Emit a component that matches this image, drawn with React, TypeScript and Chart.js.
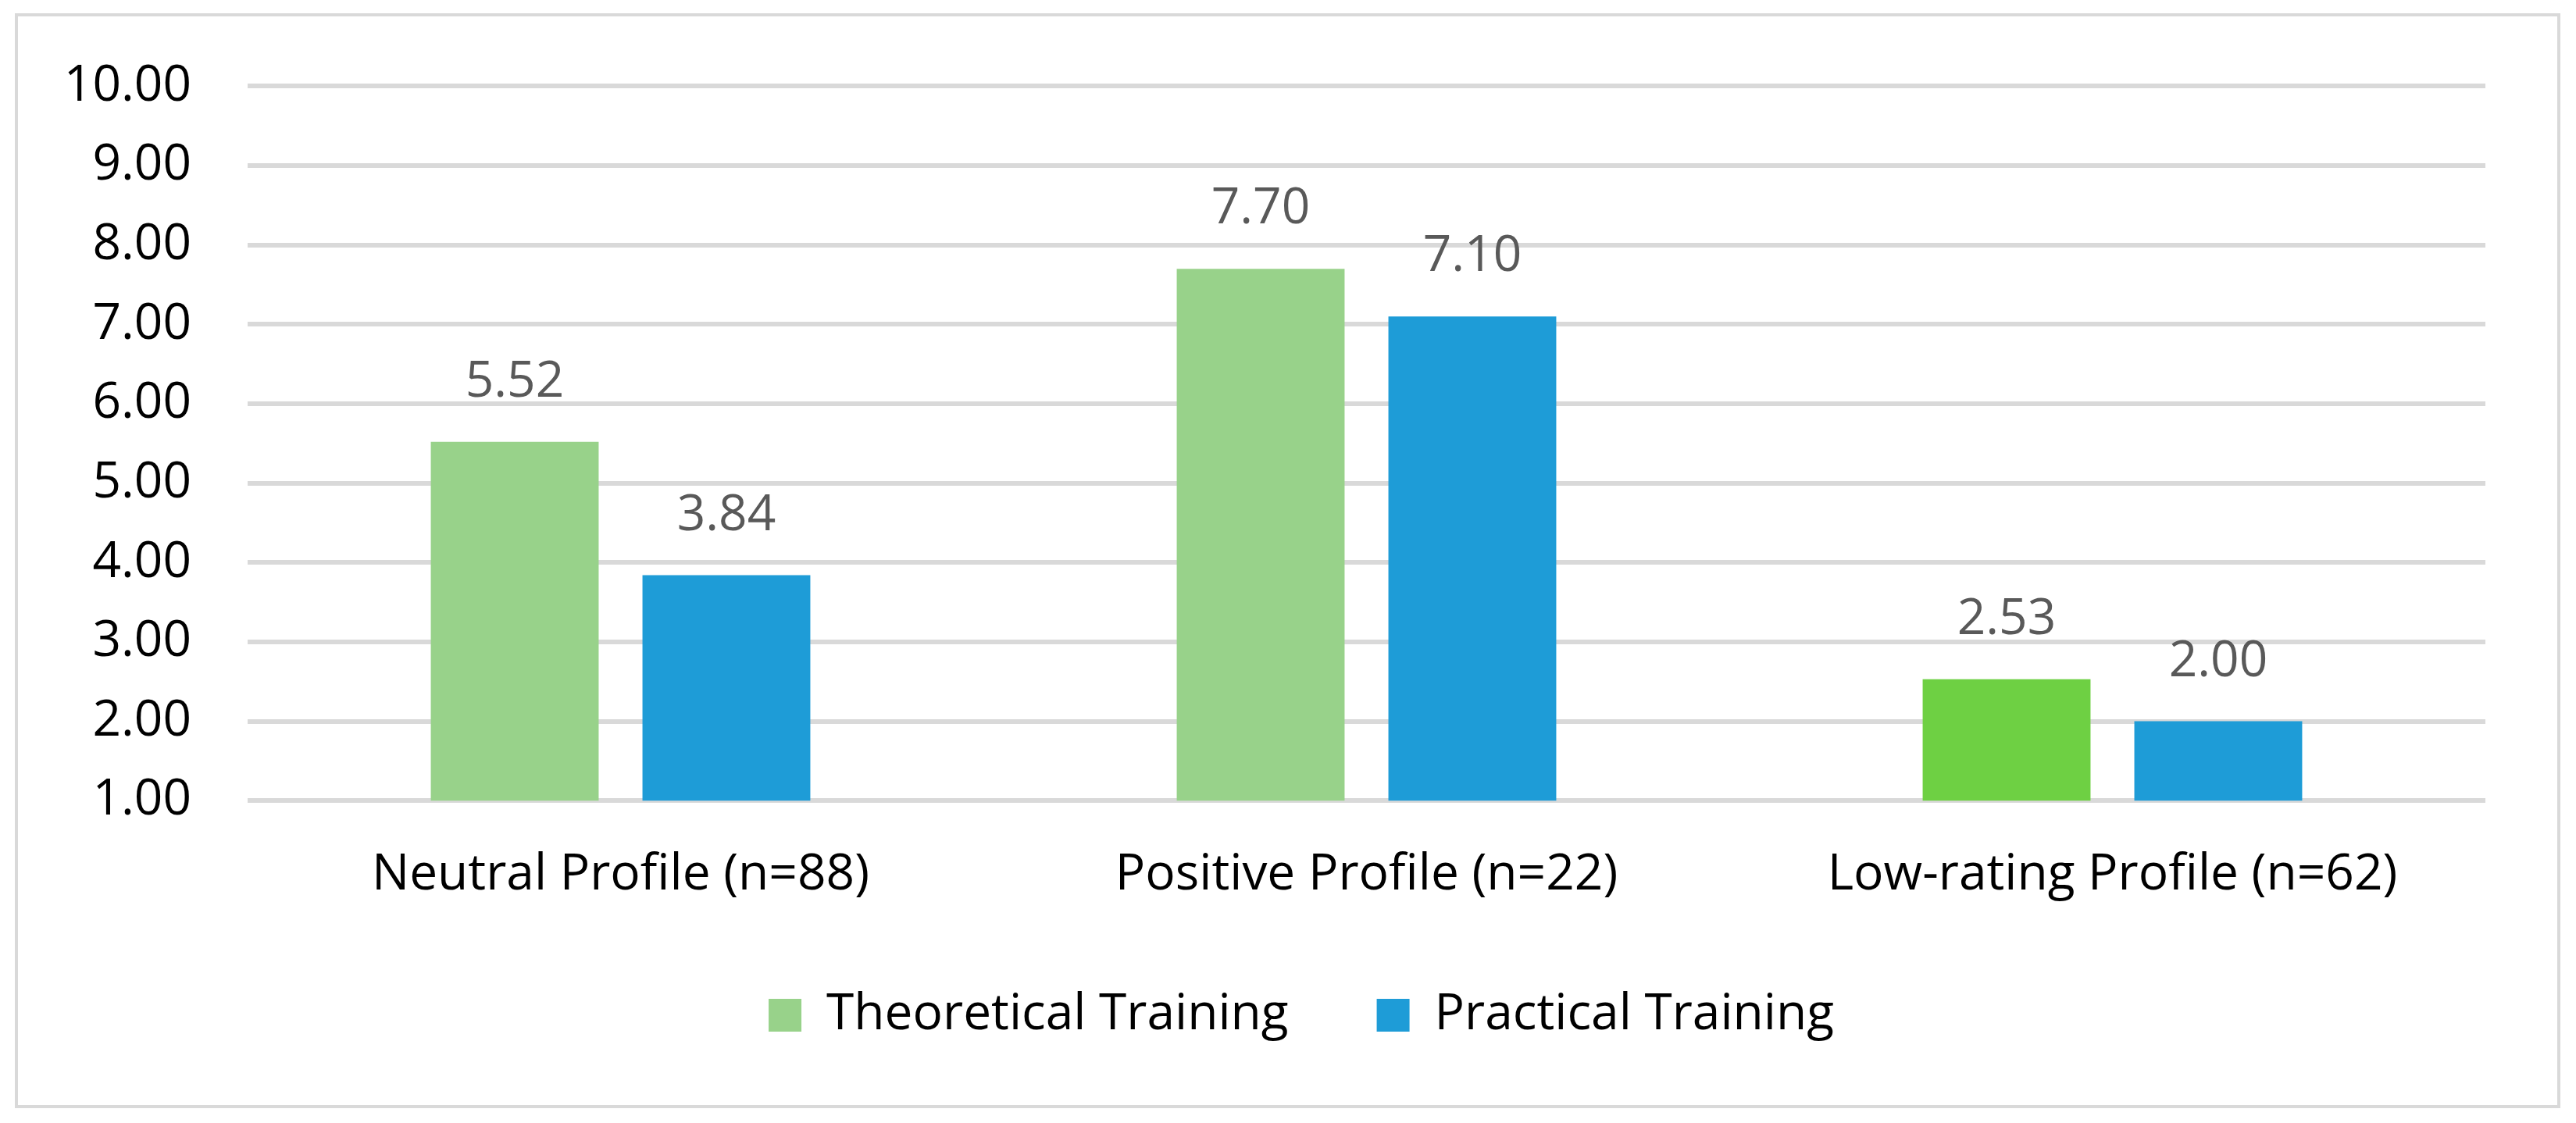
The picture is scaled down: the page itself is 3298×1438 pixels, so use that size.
import React, { useEffect, useRef } from 'react';
import Chart from 'chart.js/auto';

// === Data ===
const CATEGORIES = ['Neutral Profile (n=88)', 'Positive Profile (n=22)', 'Low-rating Profile (n=62)'];
const THEORETICAL = [5.52, 7.7, 2.53];
const PRACTICAL = [3.84, 7.1, 2.0];
const SERIES_NAMES = ['Theoretical Training', 'Practical Training'];
const Y_MIN = 1;
const Y_MAX = 10;
const Y_STEP = 1;

// === Colours ===
const GREEN = '#98D28A';
const GREEN_BRIGHT = '#6ED043';
const BLUE = '#1E9CD7';
const GRID = '#D9D9D9';
const FONT = "'Open Sans', sans-serif";
const RIGHT_PAD = 116;

// value labels above bars (no datalabels plugin available)
const valueLabels = {
  id: 'valueLabels',
  afterDatasetsDraw(chart: any) {
    const { ctx } = chart;
    ctx.save();
    ctx.font = `64px ${FONT}`;
    ctx.fillStyle = '#595959';
    ctx.textAlign = 'center';
    ctx.textBaseline = 'alphabetic';
    chart.data.datasets.forEach((ds: any, i: number) => {
      const meta = chart.getDatasetMeta(i);
      meta.data.forEach((bar: any, j: number) => {
        ctx.fillText(Number(ds.data[j]).toFixed(2), bar.x, bar.y - 58);
      });
    });
    ctx.restore();
  },
};

// legend spans the whole canvas width, not just up to the right padding
const wideLegend = {
  id: 'wideLegend',
  afterLayout(chart: any) {
    if (chart.legend) {
      chart.legend.left += 34;
      chart.legend.right += RIGHT_PAD;
    }
  },
};

const App: React.FC = () => {
  const canvasRef = useRef<HTMLCanvasElement>(null);

  useEffect(() => {
    if (!canvasRef.current) return;
    const chart = new Chart(canvasRef.current, {
      type: 'bar',
      data: {
        labels: CATEGORIES,
        datasets: [
          {
            label: SERIES_NAMES[0],
            data: THEORETICAL,
            backgroundColor: [GREEN, GREEN, GREEN_BRIGHT],
            categoryPercentage: 0.5675,
            barPercentage: 0.793,
          },
          {
            label: SERIES_NAMES[1],
            data: PRACTICAL,
            backgroundColor: BLUE,
            categoryPercentage: 0.5675,
            barPercentage: 0.793,
          },
        ],
      },
      options: {
        animation: false,
        responsive: true,
        maintainAspectRatio: false,
        layout: { padding: { top: 109, left: 0, right: RIGHT_PAD, bottom: 96 } },
        plugins: {
          tooltip: { enabled: false },
          legend: {
            position: 'bottom',
            labels: {
              boxWidth: 42,
              boxHeight: 42,
              padding: 113,
              color: '#000',
              font: { family: FONT, size: 64 },
              generateLabels: (chart: any) =>
                chart.data.datasets.map((ds: any, i: number) => ({
                  text: ds.label,
                  fillStyle: i === 0 ? GREEN : BLUE,
                  strokeStyle: 'transparent',
                  lineWidth: 0,
                  fontColor: '#000',
                  datasetIndex: i,
                  hidden: false,
                })),
            },
          },
        },
        scales: {
          x: {
            grid: { display: false, drawTicks: false },
            border: { display: false },
            ticks: {
              color: '#000',
              padding: 57,
              maxRotation: 0,
              font: { family: FONT, size: 64 },
            },
            afterFit: (scale: any) => {
              scale.height = scale.height - 61;
            },
          },
          y: {
            min: Y_MIN,
            max: Y_MAX,
            grid: { color: GRID, lineWidth: 6, drawTicks: false },
            border: { display: false },
            ticks: {
              stepSize: Y_STEP,
              color: '#000',
              padding: 72,
              font: { family: FONT, size: 64 },
              callback: (v: any) => Number(v).toFixed(2),
            },
            afterFit: (scale: any) => {
              scale.width = 317;
            },
          },
        },
      },
      plugins: [valueLabels, wideLegend],
    });
    return () => chart.destroy();
  }, []);

  return (
    <div style={{ position: 'fixed', left: 0, top: 0, width: 3298, height: 1438, background: '#fff' }}>
      <div
        style={{
          position: 'absolute',
          left: 19,
          top: 17,
          width: 3278 - 19,
          height: 1419 - 17,
          border: `4px solid ${GRID}`,
          boxSizing: 'border-box',
        }}
      />
      <canvas ref={canvasRef} style={{ position: 'absolute', left: 0, top: 0, width: 3298, height: 1438 }} />
    </div>
  );
};

export default App;
